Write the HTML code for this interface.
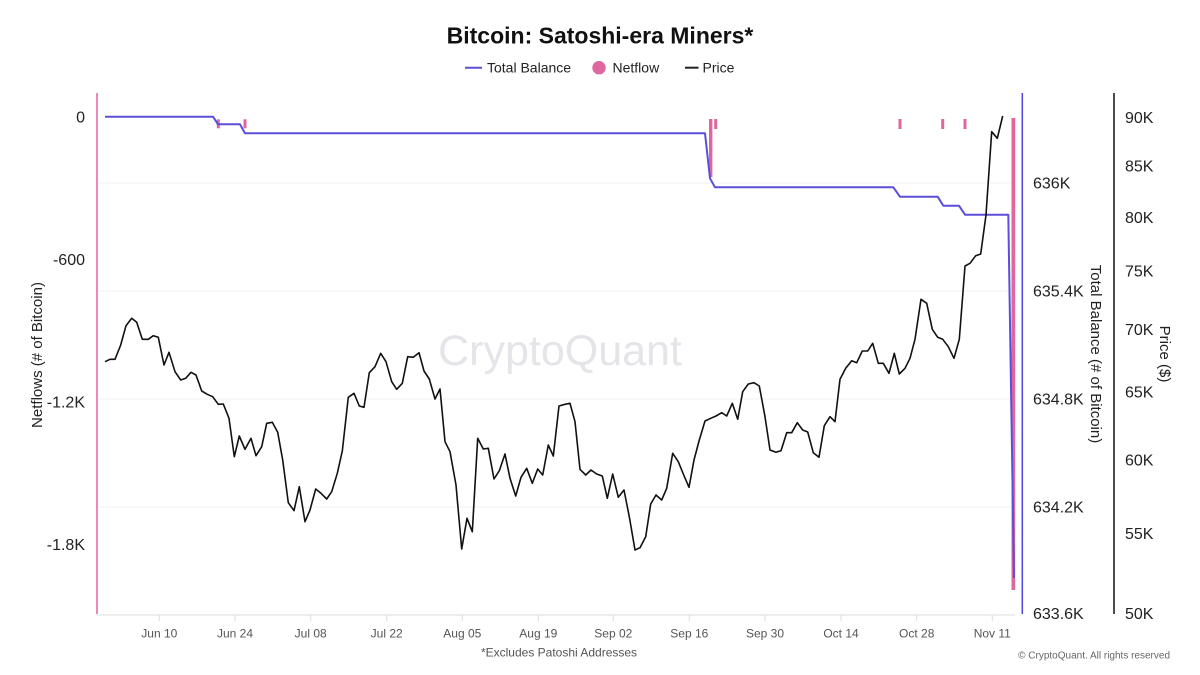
<!DOCTYPE html>
<html>
<head>
<meta charset="utf-8">
<style>
  html,body{margin:0;padding:0;background:#fff;}
  svg{display:block;}
  text{font-family:"Liberation Sans",Arial,sans-serif;}
</style>
</head>
<body>
<svg width="1200" height="675" viewBox="0 0 1200 675" xmlns="http://www.w3.org/2000/svg">
  <rect x="0" y="0" width="1200" height="675" fill="#ffffff"/>

  <!-- Title -->
  <text x="600" y="43.3" text-anchor="middle" font-size="23" font-weight="bold" fill="#111">Bitcoin: Satoshi-era Miners*</text>

  <!-- Legend -->
  <line x1="465" y1="67.7" x2="482" y2="67.7" stroke="#5a4fd8" stroke-width="2"/>
  <text x="487" y="72.7" font-size="14" fill="#222">Total Balance</text>
  <circle cx="599" cy="67.7" r="6.7" fill="#e0679e"/>
  <text x="612.5" y="72.7" font-size="14" fill="#222">Netflow</text>
  <line x1="685" y1="67.7" x2="698.5" y2="67.7" stroke="#222" stroke-width="2"/>
  <text x="702.5" y="72.7" font-size="14" fill="#222">Price</text>

  <!-- Watermark -->
  <text x="560" y="365" text-anchor="middle" font-size="43" fill="#e4e4e9">CryptoQuant</text>

  <!-- Gridlines -->
  <g stroke="#f1f1f1" stroke-width="1">
    <line x1="97" y1="183" x2="1015" y2="183"/>
    <line x1="97" y1="291" x2="1015" y2="291"/>
    <line x1="97" y1="399" x2="1015" y2="399"/>
    <line x1="97" y1="507" x2="1015" y2="507"/>
  </g>

  <!-- Bottom axis -->
  <line x1="97" y1="615" x2="1015" y2="615" stroke="#dcdcdc" stroke-width="1"/>
  <g stroke="#dcdcdc" stroke-width="1">
    <line x1="159.3" y1="615" x2="159.3" y2="621"/>
    <line x1="235" y1="615" x2="235" y2="621"/>
    <line x1="310.7" y1="615" x2="310.7" y2="621"/>
    <line x1="386.7" y1="615" x2="386.7" y2="621"/>
    <line x1="462.3" y1="615" x2="462.3" y2="621"/>
    <line x1="538.3" y1="615" x2="538.3" y2="621"/>
    <line x1="613.3" y1="615" x2="613.3" y2="621"/>
    <line x1="689.3" y1="615" x2="689.3" y2="621"/>
    <line x1="765" y1="615" x2="765" y2="621"/>
    <line x1="841" y1="615" x2="841" y2="621"/>
    <line x1="916.7" y1="615" x2="916.7" y2="621"/>
    <line x1="992.3" y1="615" x2="992.3" y2="621"/>
  </g>
  <g font-size="12" fill="#555" text-anchor="middle">
    <text x="159.3" y="637.7">Jun 10</text>
    <text x="235" y="637.7">Jun 24</text>
    <text x="310.7" y="637.7">Jul 08</text>
    <text x="386.7" y="637.7">Jul 22</text>
    <text x="462.3" y="637.7">Aug 05</text>
    <text x="538.3" y="637.7">Aug 19</text>
    <text x="613.3" y="637.7">Sep 02</text>
    <text x="689.3" y="637.7">Sep 16</text>
    <text x="765" y="637.7">Sep 30</text>
    <text x="841" y="637.7">Oct 14</text>
    <text x="916.7" y="637.7">Oct 28</text>
    <text x="992.3" y="637.7">Nov 11</text>
  </g>
  <text x="559" y="656.3" text-anchor="middle" font-size="12" fill="#555">*Excludes Patoshi Addresses</text>
  <text x="1170" y="658.5" text-anchor="end" font-size="10" fill="#666">© CryptoQuant. All rights reserved</text>

  <!-- Left axis (Netflow) -->
  <line x1="97" y1="93" x2="97" y2="614" stroke="#e0679e" stroke-width="1.5"/>
  <g font-size="16" fill="#222" text-anchor="end">
    <text x="85" y="122.3">0</text>
    <text x="85" y="264.9">-600</text>
    <text x="85" y="407.5">-1.2K</text>
    <text x="85" y="550.1">-1.8K</text>
  </g>
  <text transform="translate(42,355) rotate(-90)" text-anchor="middle" font-size="15" fill="#222">Netflows (# of Bitcoin)</text>

  <!-- Right axis (Total Balance) -->
  <line x1="1022.3" y1="93" x2="1022.3" y2="614" stroke="#5046e5" stroke-width="1.5"/>
  <g font-size="16" fill="#222">
    <text x="1033" y="188.6">636K</text>
    <text x="1033" y="296.6">635.4K</text>
    <text x="1033" y="404.6">634.8K</text>
    <text x="1033" y="512.6">634.2K</text>
    <text x="1033" y="619">633.6K</text>
  </g>
  <text transform="translate(1091,354) rotate(90)" text-anchor="middle" font-size="15" fill="#222">Total Balance (# of Bitcoin)</text>

  <!-- Right axis (Price) -->
  <line x1="1114" y1="93" x2="1114" y2="614" stroke="#111" stroke-width="1.5"/>
  <g font-size="16" fill="#222">
    <text x="1125" y="123.2">90K</text>
    <text x="1125" y="171.7">85K</text>
    <text x="1125" y="222.8">80K</text>
    <text x="1125" y="276.7">75K</text>
    <text x="1125" y="335.1">70K</text>
    <text x="1125" y="397.7">65K</text>
    <text x="1125" y="465.4">60K</text>
    <text x="1125" y="539">55K</text>
    <text x="1125" y="619">50K</text>
  </g>
  <text transform="translate(1160,354) rotate(90)" text-anchor="middle" font-size="15" fill="#222">Price ($)</text>

  <!-- Netflow bars -->
  <g fill="#e0679e">
    <rect x="216.8" y="119.3" width="3" height="9"/>
    <rect x="243.5" y="119.3" width="3" height="9"/>
    <rect x="709" y="119" width="3.4" height="58"/>
    <rect x="714.2" y="119" width="3" height="10"/>
    <rect x="898.5" y="119" width="3" height="10"/>
    <rect x="941.2" y="119" width="3" height="10"/>
    <rect x="963.5" y="119" width="3" height="10"/>
    <rect x="1011.5" y="118" width="3.7" height="472"/>
  </g>

  <!-- Total Balance line -->
  <polyline fill="none" stroke="#5a4fd8" stroke-width="2" stroke-linejoin="round"
    points="105,116.7 213,116.7 218,124.3 240,124.3 245,133.3 705,133.3 710,178.3 715,187.3 893.3,187.3 900,196.7 937.7,196.7 943.3,205.7 959,205.7 965,214.7 1008.3,214.7 1014,578"/>

  <!-- Price line -->
  <polyline fill="none" stroke="#111" stroke-width="1.6" stroke-linejoin="round"
    points="105,361.7 110,359.3 115,359.3 120.7,345 126,325.7 131.7,318.3 136.7,322.3 142.3,339.3 148.3,339.3 153.3,335.7 158.3,337.3 164,365 169,352.3 175,371.7 180.7,380 185.7,378.3 191,372.3 196,375 201.7,391 207.3,394.3 212.7,396.7 218.3,404.3 223.3,404 229,418.3 234.3,456.7 239.3,436 245,449.3 251,438.3 256,455.7 261.7,446.7 266.7,423.3 272.3,422.3 277.7,432.3 282.7,460 288.3,502.7 294,510.7 299.3,486.7 305,521.7 310,510 315.7,489 321,493.3 326.7,499 331.7,491.7 337.3,473.3 342.3,451 348.3,397.3 354,393.3 359.3,406 364,407.3 369.3,372.7 375,366.7 380.7,353.3 386,361.7 391.7,381.7 396.7,389.3 402.3,383.3 407.7,356.7 413.3,357.3 419,352.7 424,371 429.3,379 435,399 440,389 445,441.7 450,451.7 456,485 461.7,549 467,518.3 472.3,531.7 477.7,438.3 483.3,449 488.3,448.3 494,479 499.3,470.7 505,454 510,478.3 515.7,496 521,477.3 526.7,468.3 532.3,483.3 537.7,469 542.7,475 548.3,445 553.3,456 559,406 565,404.3 570,403.3 575,421.7 580,469.3 585.7,475 591,470 596.7,474 602.3,476 607.3,498.3 612.7,474 618.3,497.3 624,490 629.3,516.7 635,550 640,547.7 645.7,536.7 650.7,504 656,495 661.7,500 666.7,488.3 672.7,453.3 678.3,461.7 683.3,474 689,487.3 694,460 699.3,440 705,421 710.7,418.3 716,416 721.7,412.7 726.7,416 732.3,403.3 737.7,419.3 742.7,391.7 748.3,384 754,382.7 759.3,386 765,416.7 770,450 776,452.3 781,450.7 786.7,432.7 791.7,432.7 797.3,422.7 802.7,430 807.7,432 813.3,452.7 819,457.3 824.3,425.7 830,416.7 835,421.7 840,379.3 845.7,368.3 851.7,360.7 856.7,362.7 862.3,351 867.7,351 872.7,343.3 878.3,363.3 883.3,363.3 889,373.3 894.3,353.3 899.3,374 905,368.3 910,358.3 915,339.3 921,299.3 926.7,303.3 932.3,329.3 937.7,337.3 942.7,339.3 948.3,346.7 954,358.3 959.3,339.3 965,266 970,263.3 975.7,255.7 980.7,254 986,215 991.7,131.7 997.3,138.3 1002.7,116"/>
</svg>
</body>
</html>
